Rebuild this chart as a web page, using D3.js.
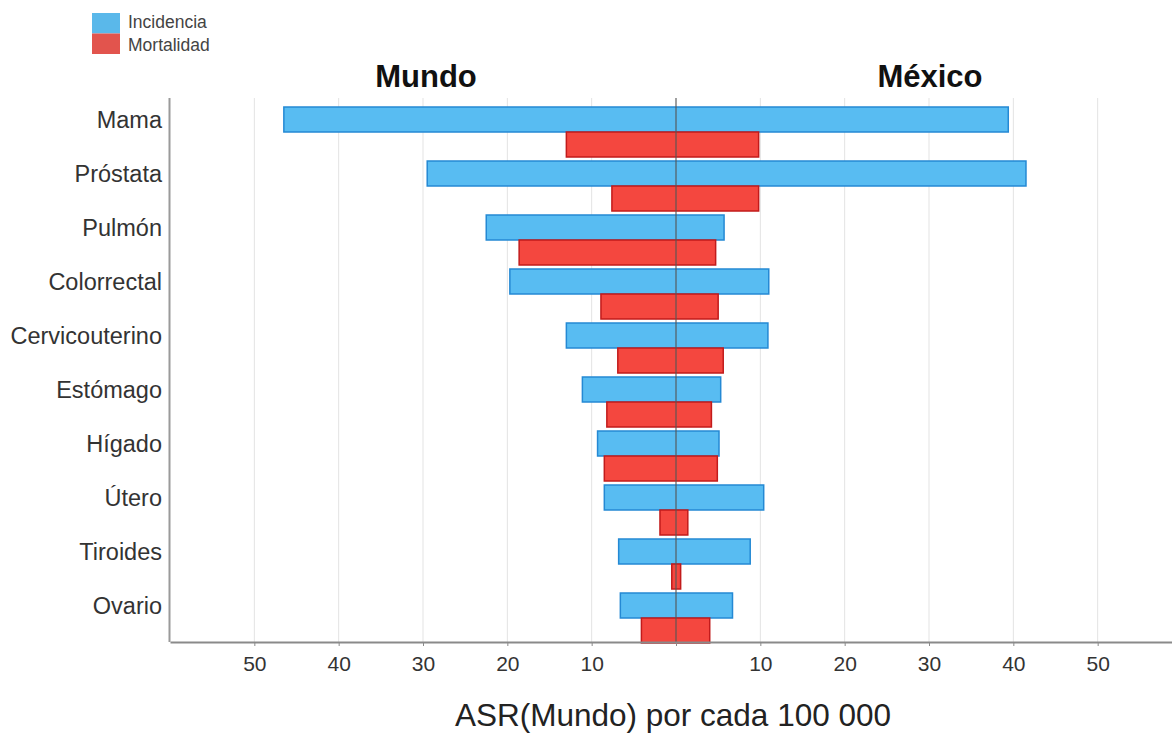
<!DOCTYPE html>
<html>
<head>
<meta charset="utf-8">
<script src="https://cdn.jsdelivr.net/npm/d3@7"></script>
<style>
  body { margin: 0; background: #fff; }
  svg { display: block; font-family: "Liberation Sans", Arial, sans-serif; }
</style>
</head>
<body>
<div id="chart"></div>
<script>
// Cancer types (top to bottom)
const categories = ["Mama", "Próstata", "Pulmón", "Colorrectal", "Cervicouterino",
                    "Estómago", "Hígado", "Útero", "Tiroides", "Ovario"];

// ASR per 100 000
const incidenciaMundo   = [46.5, 29.5, 22.5, 19.7, 13.0, 11.1, 9.3, 8.5, 6.8, 6.6];
const mortalidadMundo   = [13.0, 7.6, 18.6, 8.9, 6.9, 8.2, 8.5, 1.9, 0.5, 4.1];
const incidenciaMexico  = [39.4, 41.5, 5.7, 11.0, 10.9, 5.3, 5.1, 10.4, 8.8, 6.7];
const mortalidadMexico  = [9.8, 9.8, 4.7, 5.0, 5.6, 4.2, 4.9, 1.4, 0.55, 4.0];

const tickValues = [-50, -40, -30, -20, -10, 0, 10, 20, 30, 40, 50];
const legendLabels = ["Incidencia", "Mortalidad"];

const width = 1172, height = 733;
const plotTop = 98, plotBottom = 642;

const blueFill = "#58bcf2", blueStroke = "#2489d4";
const redFill = "#f4473f", redStroke = "#c21b1b";

const svg = d3.select("#chart").append("svg")
    .attr("width", width)
    .attr("height", height);

// x: negative = Mundo (left), positive = México (right)
const x = d3.scaleLinear().domain([-60, 60]).range([170, 1182]);
const y = d3.scaleBand().domain(categories).range([105, 645]).padding(0);

// Gridlines
svg.append("g")
    .selectAll("line")
    .data(tickValues.filter(d => d !== 0))
    .enter().append("line")
    .attr("x1", d => x(d)).attr("x2", d => x(d))
    .attr("y1", plotTop).attr("y2", plotBottom)
    .attr("stroke", "#e3e3e3")
    .attr("stroke-width", 1);

// Rows of bars
const rows = categories.map((c, i) => ({
    cat: c,
    incM: incidenciaMundo[i], morM: mortalidadMundo[i],
    incX: incidenciaMexico[i], morX: mortalidadMexico[i]
}));

const barH = 25;
const bars = svg.append("g");

// Incidencia bars (blue)
bars.selectAll(".inc")
    .data(rows)
    .enter().append("rect")
    .attr("class", "inc")
    .attr("x", d => x(-d.incM))
    .attr("y", d => y(d.cat) + 2)
    .attr("width", d => x(d.incX) - x(-d.incM))
    .attr("height", barH)
    .attr("fill", blueFill)
    .attr("stroke", blueStroke)
    .attr("stroke-width", 1.5);

// Mortalidad bars (red)
bars.selectAll(".mor")
    .data(rows)
    .enter().append("rect")
    .attr("class", "mor")
    .attr("x", d => x(-d.morM))
    .attr("y", d => y(d.cat) + 2 + barH)
    .attr("width", d => x(d.morX) - x(-d.morM))
    .attr("height", barH)
    .attr("fill", redFill)
    .attr("stroke", redStroke)
    .attr("stroke-width", 1.5);

// Center line
svg.append("line")
    .attr("x1", x(0)).attr("x2", x(0))
    .attr("y1", plotTop).attr("y2", plotBottom)
    .attr("stroke", "#555")
    .attr("stroke-opacity", 0.75)
    .attr("stroke-width", 1.5);

// Bottom axis
const xAxis = d3.axisBottom(x)
    .tickValues(tickValues)
    .tickSize(4)
    .tickSizeOuter(0)
    .tickFormat(d => d === 0 ? "" : Math.abs(d));

const gx = svg.append("g")
    .attr("transform", `translate(0,${plotBottom})`)
    .call(xAxis);
gx.select(".domain").attr("stroke", "#8a8a8a").attr("stroke-width", 2);
gx.selectAll(".tick line").attr("stroke", "#8a8a8a");
gx.selectAll(".tick text")
    .attr("y", 14)
    .attr("dy", "0.71em")
    .attr("fill", "#333")
    .style("font-size", "21px");

// Left axis line
svg.append("line")
    .attr("x1", 169.5).attr("x2", 169.5)
    .attr("y1", plotTop).attr("y2", plotBottom)
    .attr("stroke", "#9a9a9a")
    .attr("stroke-width", 2);

// Category labels
svg.append("g")
    .selectAll("text")
    .data(categories)
    .enter().append("text")
    .attr("x", 162)
    .attr("y", d => y(d) + 2 + barH / 2)
    .attr("dy", "0.35em")
    .attr("text-anchor", "end")
    .attr("fill", "#333")
    .style("font-size", "23.5px")
    .text(d => d);

// Side titles
svg.append("text")
    .attr("x", 426).attr("y", 87)
    .attr("text-anchor", "middle")
    .style("font-size", "31px").style("font-weight", "bold")
    .attr("fill", "#111")
    .text("Mundo");
svg.append("text")
    .attr("x", 930).attr("y", 87)
    .attr("text-anchor", "middle")
    .style("font-size", "31px").style("font-weight", "bold")
    .attr("fill", "#111")
    .text("México");

// Axis title
svg.append("text")
    .attr("x", 673).attr("y", 726)
    .attr("text-anchor", "middle")
    .style("font-size", "31.5px")
    .attr("fill", "#222")
    .text("ASR(Mundo) por cada 100 000");

// Legend
const legend = svg.append("g").attr("transform", "translate(92,13)");
legend.selectAll("rect")
    .data(legendLabels)
    .enter().append("rect")
    .attr("x", 0)
    .attr("y", (d, i) => i * 20.5)
    .attr("width", 28)
    .attr("height", 20.5)
    .attr("fill", (d, i) => i === 0 ? "#5ab8ea" : "#e2544d");
legend.selectAll("text")
    .data(legendLabels)
    .enter().append("text")
    .attr("x", 36)
    .attr("y", (d, i) => i * 23 + 9)
    .attr("dy", "0.35em")
    .attr("fill", "#444")
    .style("font-size", "17.5px")
    .text(d => d);
</script>
</body>
</html>
